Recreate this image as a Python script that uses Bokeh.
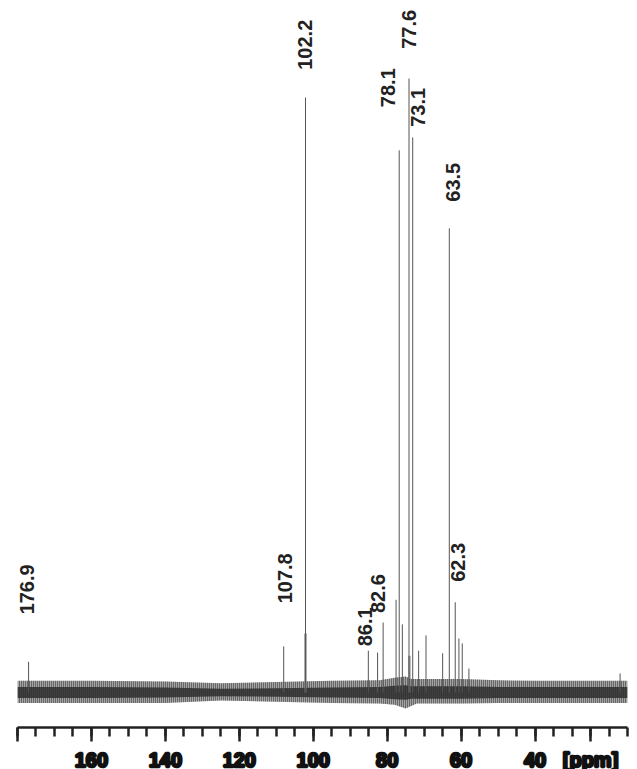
from math import pi
from bokeh.plotting import figure
from bokeh.models import Range1d, FixedTicker, ColumnDataSource
from bokeh.core.properties import value
from bokeh.embed import file_html
from bokeh.resources import INLINE

# ---- data (ppm, relative intensity; tallest = 100) ----
peak_ppm = [177.0, 108.0, 102.1, 85.1, 82.6, 81.1, 77.6, 76.75, 75.9, 74.1, 73.1,
            71.5, 69.5, 65.0, 63.2, 61.6, 60.6, 59.7, 57.9, 17.0]
peak_int = [5.0, 7.5, 96.9, 6.8, 6.5, 11.4, 15.1, 88.3, 11.1, 100.0, 90.4,
            6.8, 9.3, 6.4, 75.6, 14.7, 8.8, 8.0, 3.9, 3.1]

# broad bases under the strong lines
base_ppm = [102.1, 74.0]
base_int = [9.6, 6.0]

# noise envelope of the baseline
noise_ppm = [180, 160, 140, 125, 110, 95, 82, 78, 75, 73.5, 72, 68, 60, 50, 40, 25, 15]
noise_hi  = [1.9, 1.9, 1.8, 1.5, 1.7, 1.9, 2.0, 2.4, 2.6, 2.2, 2.2, 2.2, 2.2, 2.0, 1.9, 1.9, 1.9]
noise_lo  = [-1.7, -1.7, -1.7, -1.3, -1.5, -1.7, -1.8, -2.0, -2.6, -2.2, -1.8, -1.8, -1.8, -1.7, -1.7, -1.7, -1.7]
core_hi   = [0.9, 0.9, 0.8, 0.6, 0.7, 0.8, 0.9, 1.1, 1.2, 1.0, 1.0, 1.0, 1.0, 0.9, 0.9, 0.9, 0.9]
core_lo   = [-0.9, -0.9, -0.8, -0.6, -0.7, -0.8, -0.9, -1.1, -1.2, -1.0, -1.0, -1.0, -1.0, -0.9, -0.9, -0.9, -0.9]

# peak annotations: text, position (ppm), height
label_text = ["176.9", "107.8", "102.2", "86.1", "82.6", "78.1", "77.6", "73.1", "63.5", "62.3"]
label_ppm  = [177.3, 107.7, 102.2, 86.0, 82.4, 79.8, 74.1, 71.8, 62.2, 60.8]
label_int  = [16.8, 18.6, 105.5, 10.7, 16.1, 98.5, 108.0, 95.3, 83.1, 21.2]

major_ticks = [180, 160, 140, 120, 100, 80, 60, 40, 25]
minor_ticks = list(range(15, 181, 5))
tick_labels = {180: "", 25: "[ppm]"}

p = figure(frame_width=610, frame_height=719, output_backend="svg", toolbar_location=None,
           x_range=Range1d(180, 15), y_range=Range1d(-5.70, 111.4),
           min_border_left=17, min_border_right=10, min_border_top=8, min_border_bottom=42,
           y_axis_location=None)
p.outline_line_color = None
p.grid.visible = False
p.background_fill_color = "white"
p.border_fill_color = "white"

# baseline noise band
p.varea(x=noise_ppm, y1=noise_lo, y2=noise_hi, fill_color="#9a9a9a", fill_alpha=0.9,
        hatch_pattern="|", hatch_color="#2a2a2a", hatch_scale=2, hatch_weight=1)
p.varea(x=noise_ppm, y1=core_lo, y2=core_hi, fill_color="#2e2e2e", fill_alpha=0.85)

# broad bases
p.segment(x0=base_ppm, y0=[0] * len(base_ppm), x1=base_ppm, y1=base_int,
          line_color="#666666", line_width=2.5, line_alpha=0.7)

# peaks
p.segment(x0=peak_ppm, y0=[0] * len(peak_ppm), x1=peak_ppm, y1=peak_int,
          line_color="#555555", line_width=1)

# peak labels
src = ColumnDataSource(dict(x=label_ppm, y=label_int, t=label_text))
p.text(x="x", y="y", text="t", source=src, angle=pi / 2, text_align="center",
       text_baseline="middle", text_font=value("Liberation Sans"), text_font_style="bold",
       text_font_size="20px", text_color="#222222")

ax = p.xaxis[0]
ax.ticker = FixedTicker(ticks=major_ticks, minor_ticks=minor_ticks)
ax.major_label_overrides = tick_labels
ax.axis_line_color = "#222222"
ax.axis_line_width = 2.5
ax.major_tick_line_color = "#222222"
ax.major_tick_line_width = 2.5
ax.major_tick_in = 0
ax.major_tick_out = 14
ax.minor_tick_line_color = "#222222"
ax.minor_tick_line_width = 2.5
ax.minor_tick_in = 0
ax.minor_tick_out = 9
ax.major_label_standoff = 7
ax.major_label_text_font = "Liberation Sans"
ax.major_label_text_font_style = "bold"
ax.major_label_text_font_size = "20px"
ax.major_label_text_color = "#111111"
ax.major_label_text_outline_color = "#111111"

open("out.html", "w").write(file_html(p, INLINE))
